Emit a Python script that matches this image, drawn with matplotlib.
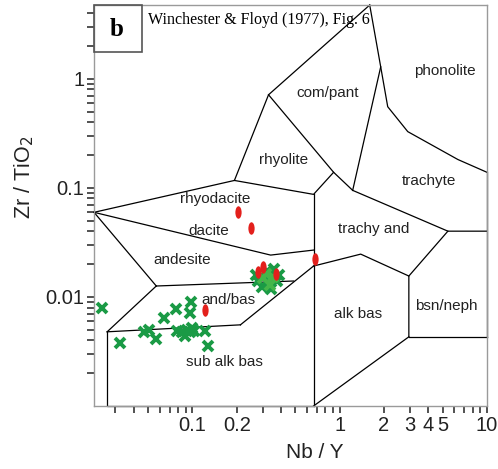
import matplotlib
matplotlib.use("Agg")
import matplotlib.pyplot as plt
from matplotlib.path import Path
from matplotlib.transforms import Affine2D
from matplotlib.patches import Rectangle
from matplotlib.ticker import FixedLocator, FixedFormatter, NullFormatter

# field boundaries of the Winchester & Floyd (1977) diagram, (Nb/Y, Zr/TiO2)
b_upper_left = [(0.0215, 0.0597), (0.193, 0.117), (0.329, 0.714), (1.60, 4.75)]
b_phonolite = [(1.60, 4.75), (1.90, 1.287), (2.12, 0.555), (2.90, 0.328), (6.35, 0.182), (10, 0.139)]
b_compant_trachyte = [(1.90, 1.287), (1.226, 0.0949)]
b_rhyolite_compant = [(0.329, 0.714), (0.91, 0.139), (1.226, 0.0949)]
b_rhyolite_bottom = [(0.193, 0.117), (0.665, 0.0872), (0.91, 0.139)]
b_trachyte_bottom = [(1.226, 0.0949), (5.43, 0.0401), (10, 0.0401)]
b_bsn_top = [(5.43, 0.0401), (2.95, 0.01555)]
b_alkbas_top = [(0.665, 0.0192), (1.39, 0.0247), (2.95, 0.01555), (2.95, 0.00431)]
b_bsn_bottom = [(2.95, 0.00431), (10, 0.00431)]
b_right = [(10, 0.139), (10, 0.00431)]
b_subalk_alk = [(0.665, 0.0872), (0.665, 0.001)]
b_alkbas_bottom = [(0.665, 0.001), (2.95, 0.00431)]
b_andesite_top = [(0.0215, 0.0597), (0.34, 0.0242), (0.665, 0.0269)]
b_andesite_left = [(0.0215, 0.0597), (0.0569, 0.0126)]
b_andbas_top = [(0.0569, 0.0126), (0.487, 0.0140)]
b_andbas_right = [(0.665, 0.0192), (0.212, 0.00555)]
b_andbas_left = [(0.0569, 0.0126), (0.0264, 0.00479)]
b_subalk_top = [(0.0264, 0.00479), (0.212, 0.00555)]
b_subalk_box = [(0.0264, 0.00479), (0.0264, 0.001), (0.665, 0.001)]

boundaries = [b_upper_left, b_phonolite, b_compant_trachyte, b_rhyolite_compant,
              b_rhyolite_bottom, b_trachyte_bottom, b_bsn_top, b_alkbas_top,
              b_bsn_bottom, b_right, b_subalk_alk, b_alkbas_bottom, b_andesite_top,
              b_andesite_left, b_andbas_top, b_andbas_right, b_andbas_left,
              b_subalk_top, b_subalk_box]

field_names = ["phonolite", "com/pant", "rhyolite", "trachyte", "rhyodacite", "dacite",
               "trachy and", "andesite", "and/bas", "alk bas", "bsn/neph", "sub alk bas"]
field_x = [5.18, 0.829, 0.416, 4.03, 0.1434, 0.1285, 1.70, 0.0855, 0.176, 1.325, 5.26, 0.165]
field_y = [1.18, 0.745, 0.182, 0.1147, 0.0785, 0.0401, 0.0418, 0.0218, 0.0094, 0.0070, 0.00828, 0.00255]

# samples
green_x = [0.0244, 0.0324, 0.0472, 0.0510, 0.0569, 0.0645, 0.0778, 0.0985, 0.0969,
           0.0791, 0.0855, 0.0925, 0.0969, 0.103, 0.0896, 0.100, 0.1226, 0.1285,
           0.281, 0.304, 0.329, 0.350, 0.319, 0.373, 0.299, 0.340, 0.361, 0.272, 0.385, 0.329]
green_y = [0.00793, 0.00380, 0.00479, 0.00500, 0.00413, 0.00643, 0.00777, 0.0090, 0.00714,
           0.00489, 0.00479, 0.00500, 0.00479, 0.00489, 0.00440, 0.00521, 0.00489, 0.00357,
           0.0140, 0.01523, 0.01342, 0.0159, 0.01728, 0.0140, 0.01234, 0.01183, 0.01803, 0.0159, 0.0159, 0.0146]
light_x = [0.300, 0.335, 0.355, 0.318]
light_y = [0.0148, 0.0130, 0.0152, 0.0162]
red_x = [0.2056, 0.252, 0.1226, 0.277, 0.304, 0.367, 0.676]
red_y = [0.0597, 0.0427, 0.0076, 0.01692, 0.0188, 0.0162, 0.0222]

x_major = [0.1, 0.2, 1, 2, 3, 4, 5, 10]
x_major_labels = ["0.1", "0.2", "1", "2", "3", "4", "5", "10"]
x_minor = [0.03, 0.04, 0.05, 0.06, 0.07, 0.08, 0.09, 0.3, 0.4, 0.5, 0.6, 0.7, 0.8, 0.9, 6, 7, 8, 9]
y_major = [0.01, 0.1, 1]
y_major_labels = ["0.01", "0.1", "1"]
y_minor = [0.002, 0.003, 0.004, 0.005, 0.006, 0.007, 0.008, 0.009,
           0.02, 0.03, 0.04, 0.05, 0.06, 0.07, 0.08, 0.09,
           0.2, 0.3, 0.4, 0.5, 0.6, 0.7, 0.8, 0.9, 2, 3, 4]

fig = plt.figure(figsize=(4.98, 4.69), dpi=100)
ax = fig.add_axes([0.1888, 0.1343, 0.789, 0.855])
ax.set_xscale("log")
ax.set_yscale("log")
ax.set_xlim(0.0215, 10)
ax.set_ylim(0.001, 4.75)

for b in boundaries:
    xs = [p[0] for p in b]
    ys = [p[1] for p in b]
    ax.plot(xs, ys, color="black", lw=0.9, clip_on=False, zorder=2)

for name, fx, fy in zip(field_names, field_x, field_y):
    ax.text(fx, fy, name, fontsize=11, family="Liberation Sans", color="#222222",
            ha="center", va="center", zorder=3)

ax.plot(green_x, green_y, ls="none", marker="x", ms=7.5, mew=2.8, color="#1a9a45", zorder=4)
ax.plot(light_x, light_y, ls="none", marker="x", ms=7.5, mew=2.8, color="#45b649", zorder=4)
red_marker = Path.unit_circle().transformed(Affine2D().scale(0.5, 1.0))
ax.plot(red_x, red_y, ls="none", marker=red_marker, ms=9, mew=0, color="#e3201c", zorder=5)

ax.xaxis.set_major_locator(FixedLocator(x_major))
ax.xaxis.set_major_formatter(FixedFormatter(x_major_labels))
ax.xaxis.set_minor_locator(FixedLocator(x_minor))
ax.xaxis.set_minor_formatter(NullFormatter())
ax.yaxis.set_major_locator(FixedLocator(y_major))
ax.yaxis.set_major_formatter(FixedFormatter(y_major_labels))
ax.yaxis.set_minor_locator(FixedLocator(y_minor))
ax.yaxis.set_minor_formatter(NullFormatter())

ax.tick_params(which="both", direction="out", length=5, width=1.1, color="#222222",
               labelsize=14.5, pad=2)
for lab in ax.get_xticklabels() + ax.get_yticklabels():
    lab.set_family("Liberation Sans")
    lab.set_color("#222222")

for s in ax.spines.values():
    s.set_color("#9a9a9a")
    s.set_linewidth(1.0)

ax.set_xlabel("Nb / Y", fontsize=15, family="Liberation Sans", color="#222222")
ax.xaxis.set_label_coords(0.562, -0.092)
ax.set_ylabel("Zr / TiO$_2$", fontsize=15.5, family="Liberation Sans", color="#222222")
ax.yaxis.set_label_coords(-0.148, 0.571)

ax.add_patch(Rectangle((0, 0.883), 0.122, 0.117, transform=ax.transAxes, fill=False,
                       edgecolor="#555555", lw=1.2, clip_on=False, zorder=6))
ax.text(0.0585, 0.940, "b", transform=ax.transAxes, fontsize=18, fontweight="bold",
        family="Liberation Serif", ha="center", va="center", zorder=6)
ax.text(0.137, 0.9626, "Winchester & Floyd (1977), Fig. 6", transform=ax.transAxes,
        fontsize=11.5, family="Liberation Serif", ha="left", va="center", zorder=6)

fig.savefig("out.png", dpi=100)
